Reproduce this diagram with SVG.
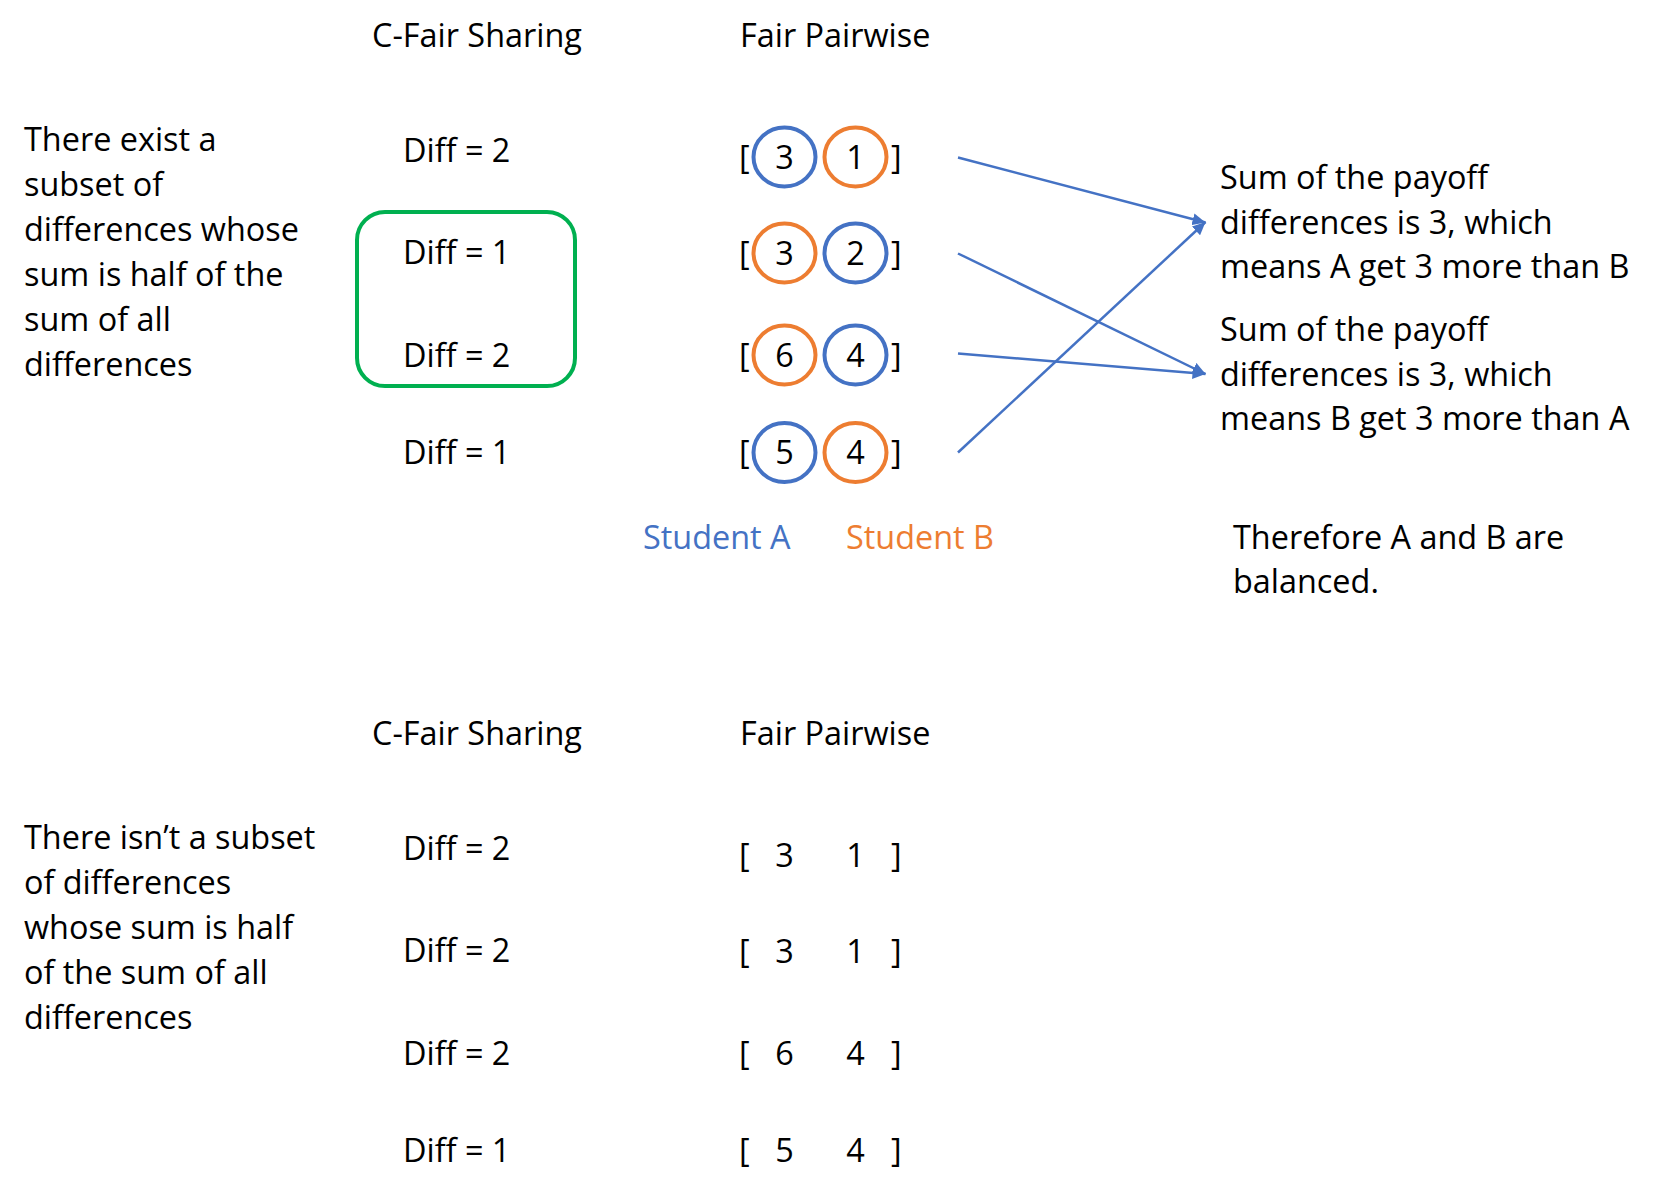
<svg xmlns="http://www.w3.org/2000/svg" width="1658" height="1196" viewBox="0 0 1658 1196">
<defs>
<style>
text{font-family:"Open Sans","Liberation Sans",sans-serif;font-size:32.4px;fill:#000}
.c{text-anchor:middle}
.bl{stroke:#4472C4;stroke-width:4;fill:none}
.or{stroke:#ED7D31;stroke-width:4;fill:none}
.conn{stroke:#4472C4;stroke-width:2.5;fill:none}
</style>
<marker id="ah" markerUnits="userSpaceOnUse" markerWidth="14" markerHeight="12" refX="13" refY="6" orient="auto">
<path d="M0,0 L13,6 L0,12 Z" fill="#4472C4"/>
</marker>
</defs>
<rect width="1658" height="1196" fill="#fff"/>

<g id="top-headers">
<text x="372" y="47">C-Fair Sharing</text>
<text x="740" y="47">Fair Pairwise</text>
</g>

<g id="top-explanation">
<text x="24" y="151">There exist a</text>
<text x="24" y="196">subset of</text>
<text x="24" y="240.5">differences whose</text>
<text x="24" y="285.5">sum is half of the</text>
<text x="24" y="330.5">sum of all</text>
<text x="24" y="375.5">differences</text>
</g>

<g id="top-diffs">
<text x="403" y="161.5">Diff = 2</text>
<text x="403" y="264">Diff = 1</text>
<text x="403" y="366.5">Diff = 2</text>
<text x="403" y="464">Diff = 1</text>
</g>

<g id="subset-box">
<rect x="357" y="212" width="218" height="174" rx="28" ry="28" fill="none" stroke="#00B050" stroke-width="4"/>
</g>

<g id="pair-1">
<text x="739" y="168.5">[</text><text x="891" y="168.5">]</text>
<ellipse class="bl" cx="784.5" cy="157" rx="31" ry="29.5"/>
<ellipse class="or" cx="855.5" cy="157" rx="31" ry="29.5"/>
<text class="c" x="784.5" y="168.5">3</text><text class="c" x="855.5" y="168.5">1</text>
</g>
<g id="pair-2">
<text x="739" y="264.5">[</text><text x="891" y="264.5">]</text>
<ellipse class="or" cx="784.5" cy="253" rx="31" ry="29.5"/>
<ellipse class="bl" cx="855.5" cy="253" rx="31" ry="29.5"/>
<text class="c" x="784.5" y="264.5">3</text><text class="c" x="855.5" y="264.5">2</text>
</g>
<g id="pair-3">
<text x="739" y="366.5">[</text><text x="891" y="366.5">]</text>
<ellipse class="or" cx="784.5" cy="355" rx="31" ry="29.5"/>
<ellipse class="bl" cx="855.5" cy="355" rx="31" ry="29.5"/>
<text class="c" x="784.5" y="366.5">6</text><text class="c" x="855.5" y="366.5">4</text>
</g>
<g id="pair-4">
<text x="739" y="464">[</text><text x="891" y="464">]</text>
<ellipse class="bl" cx="784.5" cy="452.5" rx="31" ry="29.5"/>
<ellipse class="or" cx="855.5" cy="452.5" rx="31" ry="29.5"/>
<text class="c" x="784.5" y="464">5</text><text class="c" x="855.5" y="464">4</text>
</g>

<g id="legend">
<text x="643" y="549" fill="#4472C4" style="fill:#4472C4">Student A</text>
<text x="846" y="549" style="fill:#ED7D31">Student B</text>
</g>

<g id="result-a">
<text x="1220" y="188.5">Sum of the payoff</text>
<text x="1220" y="233.5">differences is 3, which</text>
<text x="1220" y="278">means A get 3 more than B</text>
</g>
<g id="result-b">
<text x="1220" y="340.5">Sum of the payoff</text>
<text x="1220" y="385.5">differences is 3, which</text>
<text x="1220" y="430">means B get 3 more than A</text>
</g>
<g id="conclusion">
<text x="1233" y="549">Therefore A and B are</text>
<text x="1233" y="593">balanced.</text>
</g>

<g id="connectors">
<line class="conn" x1="958" y1="157.5" x2="1205.5" y2="222.5" marker-end="url(#ah)"/>
<line class="conn" x1="958" y1="253.5" x2="1205.5" y2="374" marker-end="url(#ah)"/>
<line class="conn" x1="958" y1="353.5" x2="1205.5" y2="374" marker-end="url(#ah)"/>
<line class="conn" x1="958" y1="452.5" x2="1205.5" y2="222" marker-end="url(#ah)"/>
</g>

<g id="bottom-headers">
<text x="372" y="745">C-Fair Sharing</text>
<text x="740" y="745">Fair Pairwise</text>
</g>

<g id="bottom-explanation">
<text x="24" y="849">There isn’t a subset</text>
<text x="24" y="894">of differences</text>
<text x="24" y="938.5">whose sum is half</text>
<text x="24" y="983.5">of the sum of all</text>
<text x="24" y="1028.5">differences</text>
</g>

<g id="bottom-diffs">
<text x="403" y="859.5">Diff = 2</text>
<text x="403" y="962">Diff = 2</text>
<text x="403" y="1064.5">Diff = 2</text>
<text x="403" y="1162">Diff = 1</text>
</g>

<g id="bottom-pair-1">
<text x="739" y="866.5">[</text><text class="c" x="784.5" y="866.5">3</text><text class="c" x="855.5" y="866.5">1</text><text x="891" y="866.5">]</text>
</g>
<g id="bottom-pair-2">
<text x="739" y="962.5">[</text><text class="c" x="784.5" y="962.5">3</text><text class="c" x="855.5" y="962.5">1</text><text x="891" y="962.5">]</text>
</g>
<g id="bottom-pair-3">
<text x="739" y="1064.5">[</text><text class="c" x="784.5" y="1064.5">6</text><text class="c" x="855.5" y="1064.5">4</text><text x="891" y="1064.5">]</text>
</g>
<g id="bottom-pair-4">
<text x="739" y="1162">[</text><text class="c" x="784.5" y="1162">5</text><text class="c" x="855.5" y="1162">4</text><text x="891" y="1162">]</text>
</g>
</svg>
